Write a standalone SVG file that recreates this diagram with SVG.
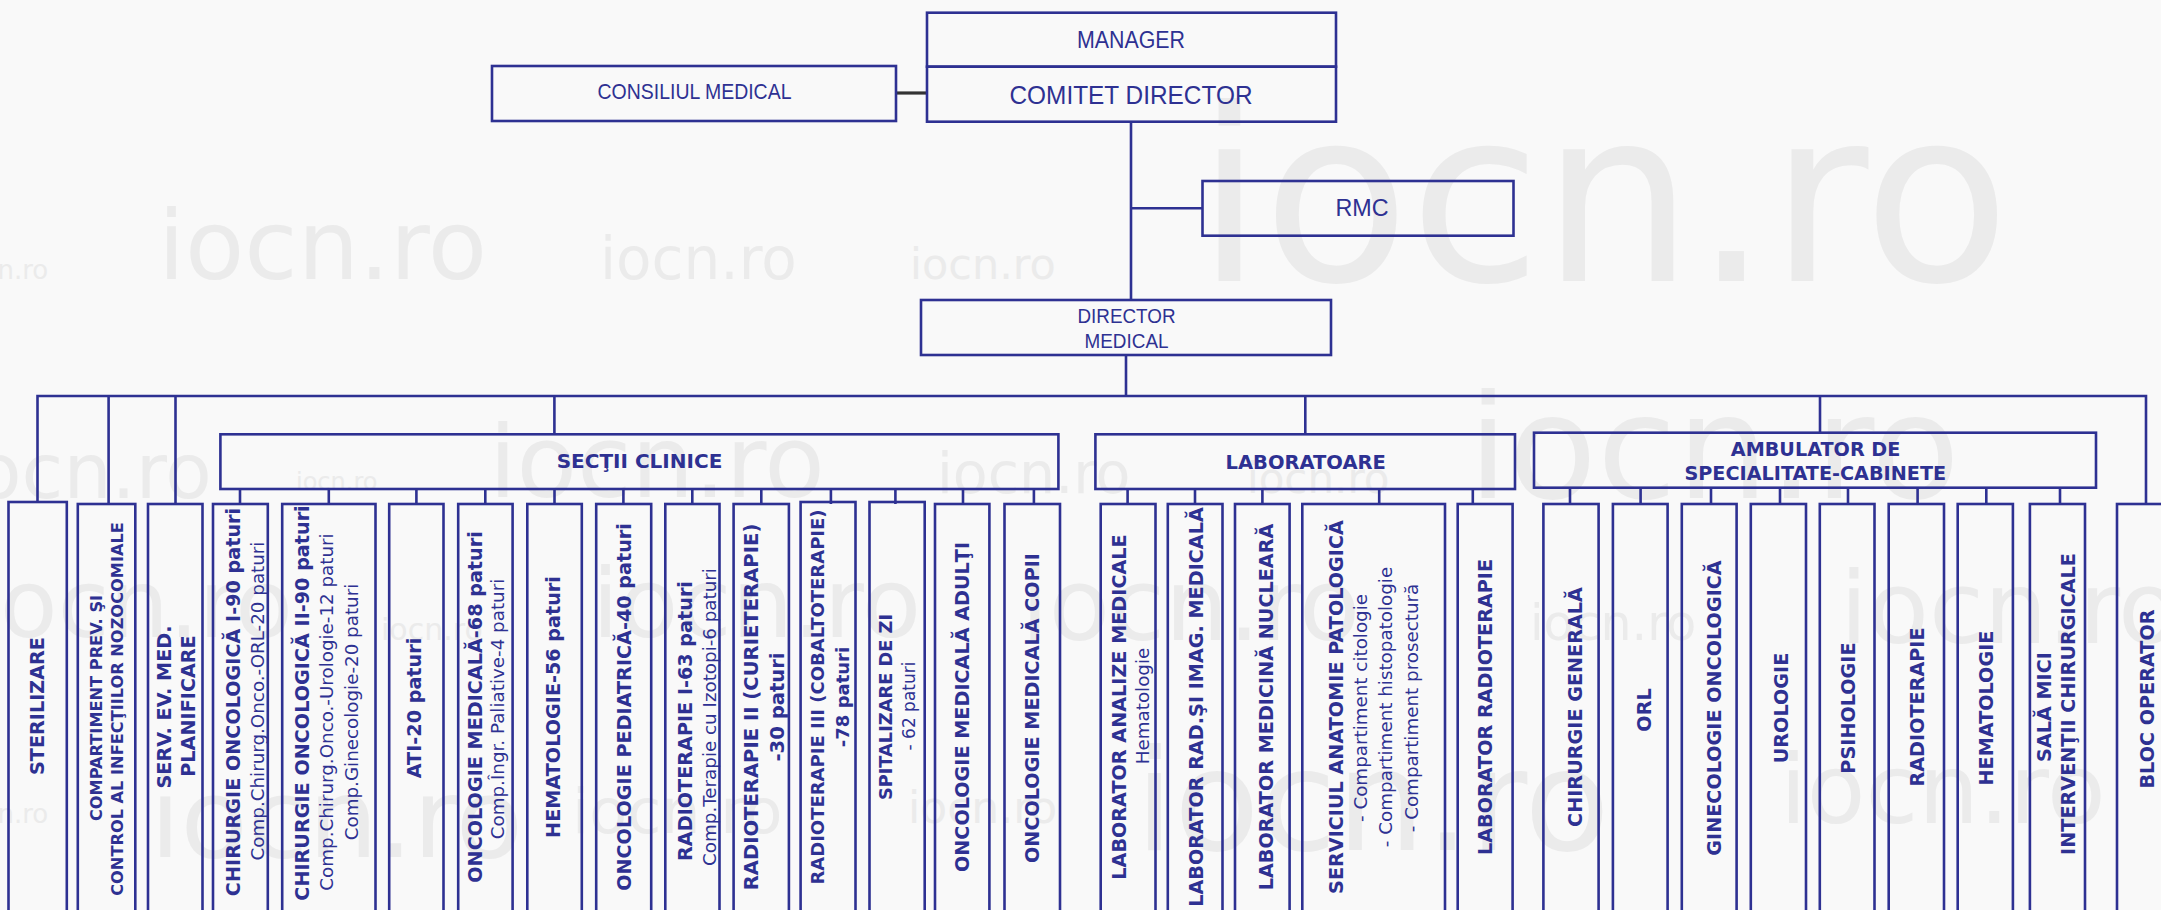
<svg xmlns="http://www.w3.org/2000/svg" width="2161" height="910" viewBox="0 0 2161 910">
<style>
.bg{fill:#f9f9f9}
.wm{font-family:"DejaVu Sans",Verdana,sans-serif;fill:#ebebeb}
.b{fill:none;stroke:#2e3192;stroke-width:2.6}
.c{fill:none;stroke:#2e3192;stroke-width:2.6}
.c2{fill:none;stroke:#333333;stroke-width:3.2}
.t{font-family:"Liberation Sans",Arial,sans-serif;fill:#2e3192;text-anchor:middle}
.h{font-family:"DejaVu Sans",Verdana,sans-serif;font-weight:bold;fill:#2e3192;text-anchor:middle}
.cb{font-family:"DejaVu Sans",Verdana,sans-serif;font-weight:bold;font-size:19.2px;fill:#2e3192;text-anchor:middle}
.cr{font-family:"DejaVu Sans",Verdana,sans-serif;font-size:18.3px;fill:#2e3192;text-anchor:middle}
</style>
<rect class="bg" x="0" y="0" width="2161" height="910"/>
<g id="watermark">
<text class="wm" x="-40" y="279" font-size="26">iocn.ro</text>
<text class="wm" x="158" y="279" font-size="97">iocn.ro</text>
<text class="wm" x="600" y="279" font-size="58">iocn.ro</text>
<text class="wm" x="910" y="279" font-size="43">iocn.ro</text>
<text class="wm" x="1196" y="281" font-size="240">iocn.ro</text>
<text class="wm" x="-46" y="498" font-size="76">iocn.ro</text>
<text class="wm" x="296" y="490" font-size="24">iocn.ro</text>
<text class="wm" x="489" y="497" font-size="99">iocn.ro</text>
<text class="wm" x="937" y="493" font-size="57">iocn.ro</text>
<text class="wm" x="1247" y="493" font-size="42">iocn.ro</text>
<text class="wm" x="1468" y="498" font-size="145">iocn.ro</text>
<text class="wm" x="-26" y="637" font-size="94">iocn.ro</text>
<text class="wm" x="381" y="640" font-size="30">iocn.ro</text>
<text class="wm" x="592" y="637" font-size="97">iocn.ro</text>
<text class="wm" x="1021" y="640" font-size="100">iocn.ro</text>
<text class="wm" x="1530" y="640" font-size="49">iocn.ro</text>
<text class="wm" x="1840" y="643" font-size="100">iocn.ro</text>
<text class="wm" x="-40" y="823" font-size="26">iocn.ro</text>
<text class="wm" x="150" y="857" font-size="110">iocn.ro</text>
<text class="wm" x="572" y="833" font-size="62">iocn.ro</text>
<text class="wm" x="908" y="823" font-size="44">iocn.ro</text>
<text class="wm" x="1135" y="850" font-size="140">iocn.ro</text>
<text class="wm" x="1780" y="823" font-size="96">iocn.ro</text>
</g>
<g id="connectors">
<path class="c2" d="M896,93 H927"/>
<path class="c" d="M1131,121.7 V300 M1131,208.3 H1202.5 M1126,355 V396"/>
<path class="c" d="M37.5,502 V396 H2146 V504 M108.6,396 V504 M175.5,396 V504 M554.4,396 V434.3 M1305.3,396 V434.3 M1820,396 V432.7"/>
<path class="c" d="M240,489 V504 M328.8,489 V504 M416.4,489 V504 M485.3,489 V504 M554.5,489 V504 M623.4,489 V504 M692.3,489 V504 M761.3,489 V504 M830.9,489 V504 M895.4,489 V504 M963,489 V504 M1033.9,489 V504"/>
<path class="c" d="M1127.6,489 V504 M1195,489 V504 M1262.4,489 V504 M1379.2,489 V504 M1472.8,489 V504"/>
<path class="c" d="M1570,487.7 V504 M1640.6,487.7 V504 M1711,487.7 V504 M1780,487.7 V504 M1848,487.7 V504 M1917.6,487.7 V504 M1986.3,487.7 V504 M2060,487.7 V504"/>
</g>
<g id="manager"><rect class="b" x="927" y="12.7" width="409" height="54"/><text class="t" x="1131" y="48.3" font-size="23.3" textLength="108" lengthAdjust="spacingAndGlyphs">MANAGER</text></g>
<g id="comitet-director"><rect class="b" x="927" y="66.7" width="409" height="55"/><text class="t" x="1131" y="104" font-size="26.5" textLength="243" lengthAdjust="spacingAndGlyphs">COMITET DIRECTOR</text></g>
<g id="consiliul-medical"><rect class="b" x="492" y="66" width="404" height="55"/><text class="t" x="694.5" y="99.3" font-size="22.3" textLength="194" lengthAdjust="spacingAndGlyphs">CONSILIUL MEDICAL</text></g>
<g id="rmc"><rect class="b" x="1202.5" y="181" width="311" height="54.7"/><text class="t" x="1362" y="216" font-size="23.3">RMC</text></g>
<g id="director-medical"><rect class="b" x="921" y="300" width="410" height="55"/><text class="t" x="1126.5" y="323.3" font-size="21" textLength="98" lengthAdjust="spacingAndGlyphs">DIRECTOR</text><text class="t" x="1126.5" y="347.7" font-size="21" textLength="84" lengthAdjust="spacingAndGlyphs">MEDICAL</text></g>
<g id="sectii-clinice"><rect class="b" x="220.4" y="434.3" width="838" height="54.7"/><text class="h" x="639.5" y="467.7" font-size="20">SECŢII CLINICE</text></g>
<g id="laboratoare"><rect class="b" x="1095.4" y="434.3" width="419.6" height="54.7"/><text class="h" x="1305.7" y="469.3" font-size="19.5">LABORATOARE</text></g>
<g id="ambulator"><rect class="b" x="1534" y="432.7" width="562" height="55"/><text class="h" x="1815.6" y="456" font-size="19.2">AMBULATOR DE</text><text class="h" x="1815.3" y="480" font-size="19.2">SPECIALITATE-CABINETE</text></g>
<g id="sterilizare"><rect class="b" x="8.5" y="502" width="58.3" height="420"/><text class="cb" transform="translate(43.7,706) rotate(-90)">STERILIZARE</text></g>
<g id="compartiment-prev"><rect class="b" x="77.8" y="504" width="57.5" height="420"/><text class="cb" style="font-size:16.2px" transform="translate(102.2,708) rotate(-90)">COMPARTIMENT PREV. ŞI</text><text class="cb" style="font-size:16.2px" transform="translate(122.8,709) rotate(-90)">CONTROL AL INFECŢIILOR NOZOCOMIALE</text></g>
<g id="serv-ev-med"><rect class="b" x="148" y="504" width="54.5" height="420"/><text class="cb" transform="translate(171,707) rotate(-90)">SERV. EV. MED.</text><text class="cb" transform="translate(195.2,706) rotate(-90)">PLANIFICARE</text></g>
<g id="chirurgie-1"><rect class="b" x="213" y="504" width="54.8" height="420"/><text class="cb" transform="translate(240,702) rotate(-90)">CHIRURGIE ONCOLOGICĂ I-90 paturi</text><text class="cr" transform="translate(263.7,701) rotate(-90)">Comp.Chirurg.Onco.-ORL-20 paturi</text></g>
<g id="chirurgie-2"><rect class="b" x="282.2" y="504" width="93.3" height="420"/><text class="cb" transform="translate(309,703) rotate(-90)">CHIRURGIE ONCOLOGICĂ II-90 paturi</text><text class="cr" transform="translate(332.5,712) rotate(-90)">Comp.Chirurg.Onco.-Urologie-12 paturi</text><text class="cr" transform="translate(357.5,712) rotate(-90)">Comp.Ginecologie-20 paturi</text></g>
<g id="ati"><rect class="b" x="389.2" y="504" width="54.3" height="420"/><text class="cb" transform="translate(421.2,708) rotate(-90)">ATI-20 paturi</text></g>
<g id="oncologie-medicala"><rect class="b" x="458.2" y="504" width="54.4" height="420"/><text class="cb" transform="translate(481.5,707) rotate(-90)">ONCOLOGIE MEDICALĂ-68 paturi</text><text class="cr" transform="translate(503.5,709) rotate(-90)">Comp.Îngr. Paliative-4 paturi</text></g>
<g id="hematologie-56"><rect class="b" x="527.3" y="504" width="54.5" height="420"/><text class="cb" transform="translate(560,707) rotate(-90)">HEMATOLOGIE-56 paturi</text></g>
<g id="oncologie-pediatrica"><rect class="b" x="596.2" y="504" width="55" height="420"/><text class="cb" transform="translate(631,707) rotate(-90)">ONCOLOGIE PEDIATRICĂ-40 paturi</text></g>
<g id="radioterapie-1"><rect class="b" x="665.3" y="504" width="54.2" height="420"/><text class="cb" transform="translate(691.5,721) rotate(-90)">RADIOTERAPIE I-63 paturi</text><text class="cr" transform="translate(715.6,717) rotate(-90)">Comp.Terapie cu Izotopi-6 paturi</text></g>
<g id="radioterapie-2"><rect class="b" x="733.6" y="504" width="55.3" height="420"/><text class="cb" style="font-size:19.6px" transform="translate(758,707) rotate(-90)">RADIOTERAPIE II (CURIETERAPIE)</text><text class="cb" style="font-size:19.6px" transform="translate(784,707) rotate(-90)">-30 paturi</text></g>
<g id="radioterapie-3"><rect class="b" x="800.6" y="502" width="54.9" height="420"/><text class="cb" style="font-size:18px" transform="translate(824,697) rotate(-90)">RADIOTERAPIE III (COBALTOTERAPIE)</text><text class="cb" style="font-size:18px" transform="translate(848.6,697) rotate(-90)">-78 paturi</text></g>
<g id="spitalizare-de-zi"><rect class="b" x="869.5" y="502" width="55.2" height="420"/><text class="cb" style="font-size:17.8px" transform="translate(892.4,707) rotate(-90)">SPITALIZARE DE ZI</text><text class="cr" style="font-size:17px" transform="translate(915,706) rotate(-90)">- 62 paturi</text></g>
<g id="oncologie-adulti"><rect class="b" x="935" y="504" width="54.4" height="420"/><text class="cb" transform="translate(968.7,707) rotate(-90)">ONCOLOGIE MEDICALĂ ADULŢI</text></g>
<g id="oncologie-copii"><rect class="b" x="1004.5" y="504" width="55.5" height="420"/><text class="cb" transform="translate(1039,708) rotate(-90)">ONCOLOGIE MEDICALĂ COPII</text></g>
<g id="laborator-analize"><rect class="b" x="1100.7" y="504" width="54.8" height="420"/><text class="cb" transform="translate(1125.8,707) rotate(-90)">LABORATOR ANALIZE MEDICALE</text><text class="cr" transform="translate(1149.2,706) rotate(-90)">Hematologie</text></g>
<g id="laborator-rad"><rect class="b" x="1167.8" y="504" width="54.7" height="420"/><text class="cb" transform="translate(1202.6,707) rotate(-90)">LABORATOR RAD.ŞI IMAG. MEDICALĂ</text></g>
<g id="laborator-medicina-nucleara"><rect class="b" x="1235" y="504" width="54.6" height="420"/><text class="cb" transform="translate(1272.7,707) rotate(-90)">LABORATOR MEDICINĂ NUCLEARĂ</text></g>
<g id="serviciul-anatomie-patologica"><rect class="b" x="1302.3" y="504" width="142.7" height="420"/><text class="cb" transform="translate(1343.4,707) rotate(-90)">SERVICIUL ANATOMIE PATOLOGICĂ</text><text class="cr" transform="translate(1366.8,708) rotate(-90)">- Compartiment citologie</text><text class="cr" transform="translate(1391.7,707) rotate(-90)">- Compartiment histopatologie</text><text class="cr" transform="translate(1417.6,708) rotate(-90)">- Compartiment prosectură</text></g>
<g id="laborator-radioterapie"><rect class="b" x="1457.7" y="504" width="54.9" height="420"/><text class="cb" transform="translate(1491.9,707) rotate(-90)">LABORATOR RADIOTERAPIE</text></g>
<g id="chirurgie-generala"><rect class="b" x="1543.4" y="504" width="55.2" height="420"/><text class="cb" transform="translate(1582,707) rotate(-90)">CHIRURGIE GENERALĂ</text></g>
<g id="orl"><rect class="b" x="1612.9" y="504" width="54.7" height="420"/><text class="cb" transform="translate(1650.5,710) rotate(-90)">ORL</text></g>
<g id="ginecologie-oncologica"><rect class="b" x="1681.8" y="504" width="54.8" height="420"/><text class="cb" transform="translate(1720.5,708) rotate(-90)">GINECOLOGIE ONCOLOGICĂ</text></g>
<g id="urologie"><rect class="b" x="1750.8" y="504" width="55.2" height="420"/><text class="cb" transform="translate(1787.7,708) rotate(-90)">UROLOGIE</text></g>
<g id="psihologie"><rect class="b" x="1819.8" y="504" width="54.7" height="420"/><text class="cb" transform="translate(1854.5,708) rotate(-90)">PSIHOLOGIE</text></g>
<g id="radioterapie-cab"><rect class="b" x="1888.7" y="504" width="55.3" height="420"/><text class="cb" transform="translate(1924.3,707) rotate(-90)">RADIOTERAPIE</text></g>
<g id="hematologie-cab"><rect class="b" x="1957.7" y="504" width="55.2" height="420"/><text class="cb" transform="translate(1992.5,708) rotate(-90)">HEMATOLOGIE</text></g>
<g id="sala-mici"><rect class="b" x="2029.9" y="504" width="55.1" height="420"/><text class="cb" transform="translate(2051,707) rotate(-90)">SALĂ MICI</text><text class="cb" transform="translate(2075.3,704) rotate(-90)">INTERVENŢII CHIRURGICALE</text></g>
<g id="bloc-operator"><rect class="b" x="2117" y="504" width="60" height="420"/><text class="cb" transform="translate(2153.5,699) rotate(-90)">BLOC OPERATOR</text></g>
</svg>
